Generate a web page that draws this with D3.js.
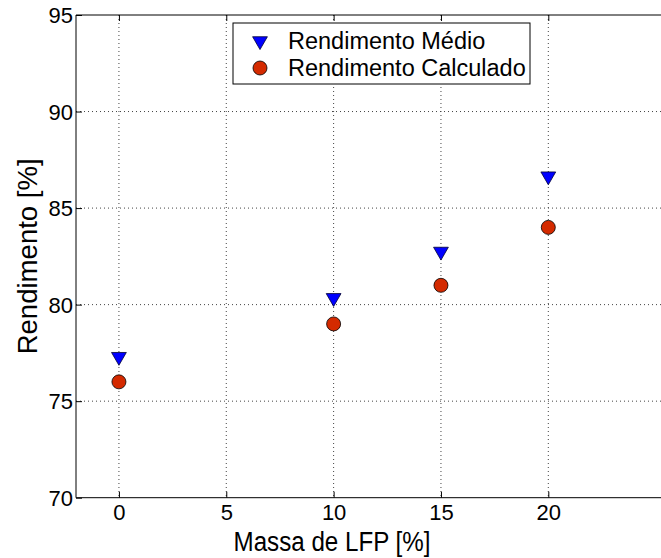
<!DOCTYPE html>
<html>
<head>
<meta charset="utf-8">
<script src="https://cdn.jsdelivr.net/npm/d3@7"></script>
<style>
  body { margin: 0; background: #fff; }
  svg { font-family: Arial, "Liberation Sans", sans-serif; }
</style>
</head>
<body>
<div id="chart"></div>
<script>
// data
var massa = [0, 10, 15, 20];
var rendMedio = [77.3, 80.35, 82.75, 86.65];
var rendCalc = [76.0, 79.0, 81.0, 84.0];
var xTicks = [0, 5, 10, 15, 20];
var yTicks = [70, 75, 80, 85, 90, 95];
var seriesNames = ["Rendimento Médio", "Rendimento Calculado"];

var w = 661, h = 558;
var padLeft = 76, padTop = 15, padBottom = 497.7;

var x = d3.scaleLinear().domain([-2, 20]).range([padLeft, 548.3]);
var y = d3.scaleLinear().domain([70, 95]).range([padBottom, padTop]);

var svg = d3.select("#chart").append("svg")
  .attr("width", w).attr("height", h);

// grid
svg.append("g").selectAll("line").data(xTicks).enter().append("line")
  .attr("x1", d => x(d)).attr("x2", d => x(d))
  .attr("y1", padTop).attr("y2", padBottom)
  .attr("stroke", "#444").attr("stroke-width", 1)
  .attr("stroke-dasharray", "1,3");
svg.append("g").selectAll("line").data(yTicks.slice(1, -1)).enter().append("line")
  .attr("x1", padLeft).attr("x2", w)
  .attr("y1", d => y(d)).attr("y2", d => y(d))
  .attr("stroke", "#444").attr("stroke-width", 1)
  .attr("stroke-dasharray", "1,3");

// axes (ticks pointing inward)
var xAxis = d3.axisBottom(x).tickValues(xTicks).tickSize(-6);
var gx = svg.append("g")
  .attr("transform", "translate(0," + padBottom + ")")
  .call(xAxis);
var gxTop = svg.append("g")
  .attr("transform", "translate(0," + padTop + ")")
  .call(d3.axisTop(x).tickValues(xTicks).tickSize(-6).tickFormat(""));
var yAxis = d3.axisLeft(y).tickValues(yTicks).tickSize(-6);
var gy = svg.append("g")
  .attr("transform", "translate(" + padLeft + ",0)")
  .call(yAxis);
[gx, gy, gxTop].forEach(g => {
  g.select(".domain").remove();
  g.selectAll("text").attr("font-size", 22).attr("fill", "#000")
    .attr("font-family", "Arial, 'Liberation Sans', sans-serif");
  g.selectAll("line").attr("stroke", "#000");
});
gx.selectAll("text").attr("y", 22).attr("dy", 0);
gy.selectAll("text").attr("x", -3).attr("dy", "0.35em");

// frame: plot runs off the right side of the picture
svg.append("line").attr("x1", padLeft).attr("x2", w).attr("y1", padBottom).attr("y2", padBottom)
  .attr("stroke", "#000");
svg.append("line").attr("x1", padLeft).attr("x2", w).attr("y1", padTop).attr("y2", padTop)
  .attr("stroke", "#000");
svg.append("line").attr("x1", padLeft).attr("x2", padLeft).attr("y1", padTop).attr("y2", padBottom)
  .attr("stroke", "#000");

var tri = d3.symbol().type(d3.symbolTriangle).size(95);

function drawTri(sel) {
  sel.attr("d", tri).attr("fill", "#0000ff").attr("stroke", "#000033").attr("stroke-width", 0.8);
}
function drawCirc(sel) {
  sel.attr("r", 7).attr("fill", "#d42a00").attr("stroke", "#000").attr("stroke-width", 0.8);
}

svg.append("g").selectAll("path").data(massa).enter().append("path")
  .attr("transform", (d, i) => "translate(" + x(d) + "," + y(rendMedio[i]) + ") rotate(180)")
  .call(drawTri);
svg.append("g").selectAll("circle").data(massa).enter().append("circle")
  .attr("cx", d => x(d)).attr("cy", (d, i) => y(rendCalc[i]))
  .call(drawCirc);

// legend
var lg = svg.append("g").attr("transform", "translate(233,23)");
lg.append("rect").attr("width", 297).attr("height", 61)
  .attr("fill", "#fff").attr("stroke", "#000");
lg.append("path").attr("transform", "translate(27,18) rotate(180)").call(drawTri);
lg.append("circle").attr("cx", 27).attr("cy", 45).call(drawCirc);
lg.selectAll("text").data(seriesNames).enter().append("text")
  .attr("x", 55).attr("y", (d, i) => 18 + i * 27)
  .attr("dy", "0.36em").attr("font-size", 23.5).text(d => d);

// titles
svg.append("text").attr("x", 332).attr("y", 551)
  .attr("text-anchor", "middle").attr("font-size", 27)
  .attr("textLength", 197).attr("lengthAdjust", "spacingAndGlyphs")
  .text("Massa de LFP [%]");
svg.append("text")
  .attr("transform", "translate(37," + y(82.5) + ") rotate(-90)")
  .attr("text-anchor", "middle").attr("font-size", 27)
  .attr("textLength", 196).attr("lengthAdjust", "spacingAndGlyphs")
  .text("Rendimento [%]");
</script>
</body>
</html>
